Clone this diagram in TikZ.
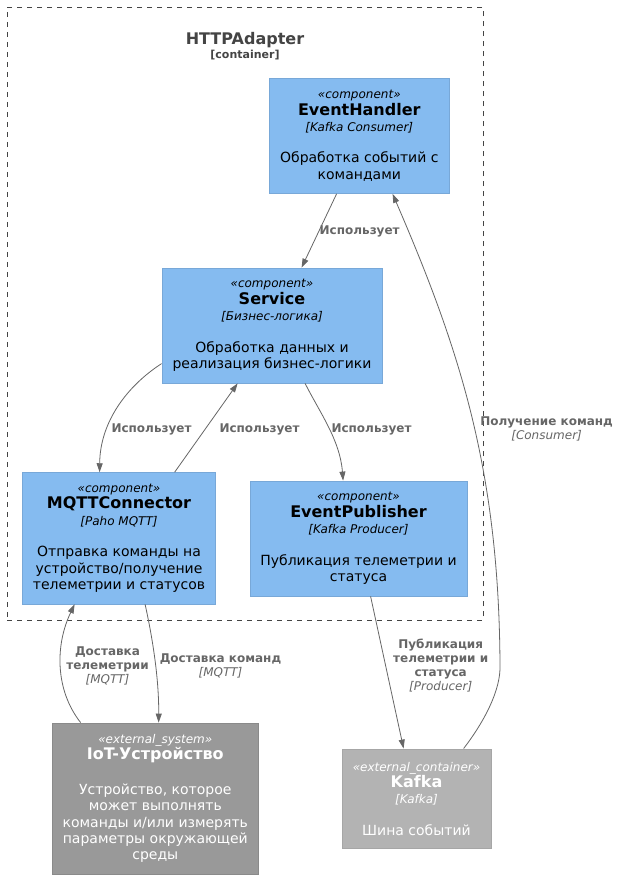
\documentclass[tikz,border=0pt]{standalone}
\usepackage{fontspec}
\setmainfont{DejaVu Sans}
\usetikzlibrary{arrows.meta,calc}
\definecolor{comp}{HTML}{85BBF0}
\definecolor{compb}{HTML}{78A8D8}
\definecolor{extsys}{HTML}{999999}
\definecolor{extsysb}{HTML}{8A8A8A}
\definecolor{extct}{HTML}{B3B3B3}
\definecolor{extctb}{HTML}{A6A6A6}
\definecolor{edgec}{HTML}{666666}
\definecolor{ttl}{HTML}{444444}
\newcommand{\stereo}[1]{{\fontsize{12}{14}\selectfont\itshape «#1»}}
\newcommand{\cname}[1]{{\fontsize{16}{19}\selectfont\bfseries #1}}
\newcommand{\techl}[1]{{\fontsize{12}{14}\selectfont\itshape [#1]}}
\tikzset{
  box/.style={rectangle, draw, line width=0.8pt, align=center, inner sep=0pt,
    font=\fontsize{14}{16.4}\selectfont},
  compbox/.style={box, fill=comp, draw=compb, text=black},
  sysbox/.style={box, fill=extsys, draw=extsysb, text=white},
  ctbox/.style={box, fill=extct, draw=extctb, text=white},
  conn/.style={draw=edgec, line width=0.8pt, -{Triangle[length=9pt,width=6pt]}},
  elabel/.style={text=edgec, align=center, inner sep=0pt,
    font=\fontsize{12}{14}\selectfont\bfseries},
}
\begin{document}
\begin{tikzpicture}[x=1pt,y=-1pt]
\fill[white] (0,0) rectangle (619,879);
\useasboundingbox (0,0) rectangle (619,879);

% container
\node[draw=ttl, line width=0.8pt, dash pattern=on 5pt off 5pt, minimum width=476pt,
  minimum height=613pt, inner sep=0pt] (ct) at (245,313.5) {};
\node[anchor=base, text=ttl, inner sep=0pt, font=\fontsize{16}{19}\selectfont\bfseries]
  (cttitle) at (245,44) {HTTPAdapter};
\node[anchor=base, text=ttl, inner sep=0pt, font=\fontsize{11}{13}\selectfont\bfseries]
  (ctsub) at (245,58.7) {[container]};

% components
\node[compbox, minimum width=179.4pt, minimum height=115.5pt] (eh) at (359.3,135.7)
  {\stereo{component}\\ \cname{EventHandler}\\ \techl{Kafka Consumer}\\[15pt]
   Обработка событий с\\ командами};
\node[compbox, minimum width=220pt, minimum height=115pt] (sv) at (272,325.5)
  {\stereo{component}\\ \cname{Service}\\ \techl{Бизнес-логика}\\[15pt]
   Обработка данных и\\ реализация бизнес-логики};
\node[compbox, minimum width=193pt, minimum height=131.3pt] (mq) at (119,538.3)
  {\stereo{component}\\ \cname{MQTTConnector}\\ \techl{Paho MQTT}\\[15pt]
   Отправка команды на\\ устройство/получение\\ телеметрии и статусов};
\node[compbox, minimum width=217pt, minimum height=115pt] (ep) at (358.5,538.5)
  {\stereo{component}\\ \cname{EventPublisher}\\ \techl{Kafka Producer}\\[15pt]
   Публикация телеметрии и\\ статуса};
\node[sysbox, minimum width=205.5pt, minimum height=151pt] (iot) at (155.3,798.5)
  {\stereo{external\_system}\\ \cname{IoT-Устройство}\\[18pt]
   Устройство, которое\\ может выполнять\\ команды и/или измерять\\ параметры окружающей\\ среды};
\node[ctbox, minimum width=149pt, minimum height=99.7pt] (kf) at (416.5,798.8)
  {\stereo{external\_container}\\ \cname{Kafka}\\ \techl{Kafka}\\[15pt]
   Шина событий};

% connectors
\draw[conn] ($(eh.south west)+(67.4,0)$) -- ($(sv.north west)+(140,0)$);
\draw[conn] ($(sv.north west)+(0,96)$) .. controls (127,386) and (100,422) ..
  ($(mq.north west)+(77.5,0)$);
\draw[conn] ($(mq.north west)+(152.5,0)$) -- ($(sv.south west)+(76,0)$);
\draw[conn] ($(sv.south west)+(143.5,0)$) .. controls (320,413) and (340,440) ..
  ($(ep.north west)+(93.5,0)$);
\draw[conn] ($(kf.north west)+(122,0)$) .. controls (484,722) and (501,690) .. (500,665)
  .. controls (499,470) and (460,350) .. ($(eh.south west)+(123.4,0)$);
\draw[conn] ($(mq.south west)+(123,0)$) .. controls (153,640) and (159,680) ..
  ($(iot.north west)+(106.5,0)$);
\draw[conn] ($(iot.north west)+(28.5,0)$) .. controls (55,690) and (55,645) ..
  ($(mq.south west)+(52.5,0)$);
\draw[conn] ($(ep.south west)+(121,0)$) -- ($(kf.north west)+(62,0)$);

% connector labels
\node[elabel, anchor=west] (l1) at (319.5,231.7) {Использует};
\node[elabel] (l2) at (151.5,429) {Использует};
\node[elabel] (l3) at (259.5,429) {Использует};
\node[elabel] (l4) at (371.5,429) {Использует};
\node[elabel] (l5) at (546.6,429) {Получение команд\\ {\mdseries\itshape [Consumer]}};
\node[elabel] (l6) at (220.5,666) {Доставка команд\\ {\mdseries\itshape [MQTT]}};
\node[elabel] (l7) at (107.5,666) {Доставка\\ телеметрии\\ {\mdseries\itshape [MQTT]}};
\node[elabel] (l8) at (440.7,666) {Публикация\\ телеметрии и\\ статуса\\ {\mdseries\itshape [Producer]}};
\end{tikzpicture}
\end{document}
